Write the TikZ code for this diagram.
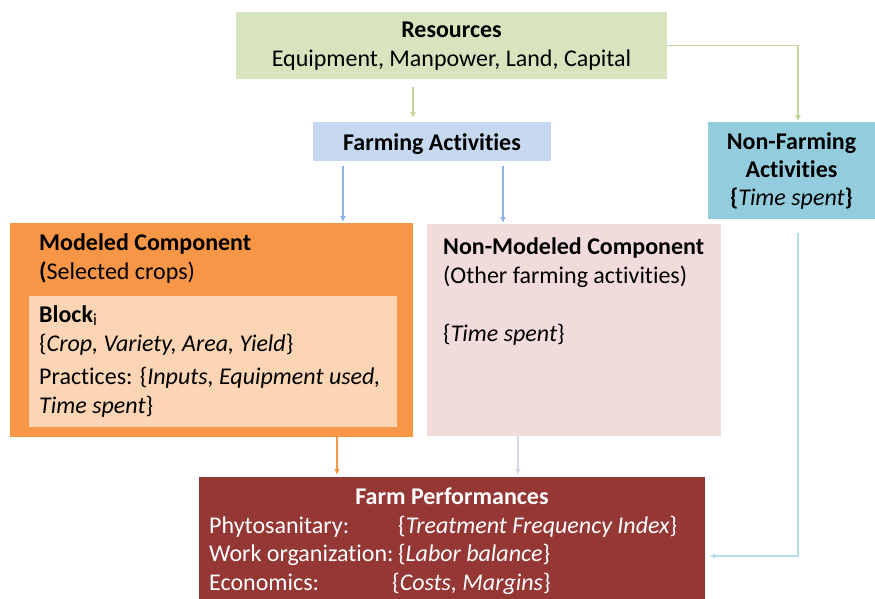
\documentclass[tikz,border=0pt]{standalone}
\usepackage{fontspec}
\setmainfont[Ligatures=NoCommon]{Carlito}
\usetikzlibrary{arrows.meta, positioning, calc}
\definecolor{resgreen}{HTML}{D7E4BD}
\definecolor{fablue}{HTML}{C6D9F1}
\definecolor{nfteal}{HTML}{93CDDD}
\definecolor{modorange}{HTML}{F79646}
\definecolor{blockpeach}{HTML}{FCD5B5}
\definecolor{nmpink}{HTML}{F2DCDB}
\definecolor{perfred}{HTML}{953735}
\definecolor{lngreen}{HTML}{C3D69B}
\definecolor{lnblue}{HTML}{8EB4E3}
\definecolor{lnlav}{HTML}{DCD6E8}
\definecolor{lnsky}{HTML}{B7DEE8}
\newcommand{\Tsp}{\textit{Time spent}}

\begin{document}
\begin{tikzpicture}[x=1pt, y=-1pt, >={Latex[length=6pt,width=6pt]},
  box/.style={fill=#1, inner sep=0pt, anchor=north west},
  txt/.style={inner sep=0pt, anchor=base west, align=left,
    font=\fontsize{24}{29}\selectfont},
  ctxt/.style={txt, anchor=base, align=center},
  conn/.style={->, draw=#1, line width=1.5pt}]
  \useasboundingbox (0,0) rectangle (875,599);

  % boxes
  \node[box=resgreen, minimum width=431pt, minimum height=67pt] (res) at (236,12) {};
  \node[box=fablue, minimum width=238pt, minimum height=39pt] (fa) at (313,122) {};
  \node[box=nfteal, minimum width=167pt, minimum height=97pt] (nfa) at (708,122) {};
  \node[box=modorange, minimum width=403pt, minimum height=214pt] (mod) at (10,223) {};
  \node[box=blockpeach, minimum width=368pt, minimum height=131pt] (blk) at (29,296) {};
  \node[box=nmpink, minimum width=294pt, minimum height=212pt] (nmod) at (427,224) {};
  \node[box=perfred, minimum width=506pt, minimum height=123pt] (perf) at (199,477) {};

  % texts (base = last line)
  \node[ctxt] (restxt) at (451.5,67) {\textbf{Resources}\\Equipment, Manpower, Land, Capital};
  \node[ctxt] (fatxt) at (432,150) {\textbf{Farming Activities}};
  \node[ctxt, font=\fontsize{24}{28}\selectfont] (nfatxt) at (791.5,205)
    {\textbf{Non-Farming}\\\textbf{Activities}\\\textbf{\{}\Tsp\textbf{\}}};
  \node[txt] (modtxt) at (39,279) {\textbf{Modeled Component}\\\textbf{(}Selected crops)};
  \node[txt] (blktxt) at (39,413)
    {\textbf{Block}\textsubscript{i}\\\{\textit{Crop, Variety, Area, Yield}\}\\[4pt]
     Practices: \{\textit{Inputs, Equipment used,}\\\Tsp\}};
  \node[txt] (nmodtxt) at (443,341)
    {\textbf{Non-Modeled Component}\\(Other farming activities)\\[29pt]\{\Tsp\}};

  \begin{scope}[every node/.style={txt, text=white}]
    \node[ctxt, text=white] (perftxt) at (452,504) {\textbf{Farm Performances}};
    \node (phy) at (209,533) {Phytosanitary:};
    \node (phyv) at (398,533) {\{\textit{Treatment Frequency Index}\}};
    \node (work) at (209,561) {Work organization:};
    \node[right=4pt of work.base east, anchor=base west] (workv) {\{\textit{Labor balance}\}};
    \node (eco) at (209,590) {Economics:};
    \node (ecov) at (392,590) {\{\textit{Costs, Margins}\}};
  \end{scope}

  % connector columns
  \coordinate (cg) at (413,0);
  \coordinate (cr) at (798,0);
  \coordinate (cb1) at (343,0);
  \coordinate (cb2) at (503,0);
  \coordinate (co1) at (337,0);
  \coordinate (co2) at (518,0);
  \coordinate (rowl) at (0,556);

  \draw[conn=lngreen, shorten <=8pt, shorten >=4pt] (res.south -| cg) -- (fa.north -| cg);
  \draw[conn=lngreen, shorten >=1pt] (res.east) -- (res.east -| cr) -- (nfa.north -| cr);
  \draw[conn=lnblue, shorten <=5pt, shorten >=1pt] (fa.south -| cb1) -- (mod.north -| cb1);
  \draw[conn=lnblue, shorten <=5pt, shorten >=1pt] (fa.south -| cb2) -- (nmod.north -| cb2);
  \draw[conn=modorange, shorten >=2pt] (mod.south -| co1) -- (perf.north -| co1);
  \draw[conn=lnlav, shorten >=2pt] (nmod.south -| co2) -- (perf.north -| co2);
  \draw[conn=lnsky, shorten >=4pt, shorten <=14pt] (nfa.south -| cr) -- (cr |- rowl) -- (perf.east |- rowl);
\end{tikzpicture}
\end{document}
